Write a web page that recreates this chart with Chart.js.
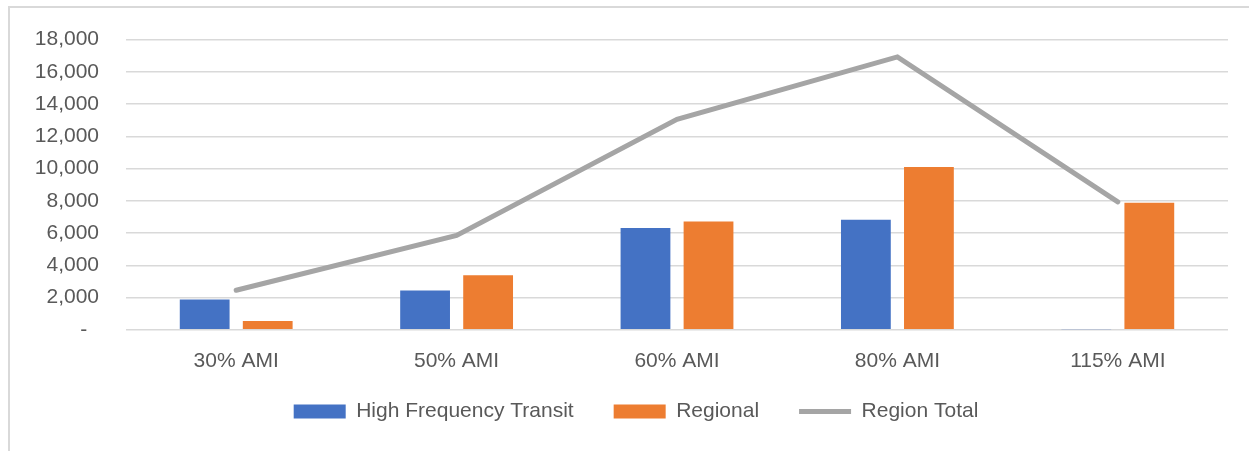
<!DOCTYPE html>
<html>
<head>
<meta charset="utf-8">
<title>AMI chart</title>
<script src="https://cdn.jsdelivr.net/npm/chart.js@4.4.1/dist/chart.umd.min.js"></script>
<style>
  html, body { margin: 0; padding: 0; background: #ffffff; }
  #frame { position: absolute; left: 8px; top: 6px; width: 1260px; height: 460px; border: 2px solid #d9d9d9; }
  #wrap { position: absolute; left: 0; top: 0; width: 1249px; height: 451px; }
</style>
</head>
<body>
<div id="frame"></div>
<div id="wrap"><canvas id="amiChart"></canvas></div>
<script>
// categories and values
var categories = ["30% AMI", "50% AMI", "60% AMI", "80% AMI", "115% AMI"];
var highFrequencyTransit = [1880, 2440, 6310, 6830, 40];
var regional = [540, 3380, 6720, 10100, 7880];
var regionTotal = [2450, 5850, 13050, 16930, 7930];
var yTicks = [0, 2000, 4000, 6000, 8000, 10000, 12000, 14000, 16000, 18000];

// nudge the legend to where the reference has it
var legendLift = 32;
var legendPush = 22;
var legendShift = {
  id: "legendShift",
  afterLayout: function(chart) {
    chart.legend.top -= legendLift;
    chart.legend.bottom -= legendLift;
    chart.legend.left += legendPush;
    chart.legend.right += legendPush;
  }
};

Chart.defaults.font.family = "'Liberation Sans', Arial, sans-serif";
Chart.defaults.font.size = 21;
Chart.defaults.color = "#595959";

var ctx = document.getElementById("amiChart").getContext("2d");
var amiChart = new Chart(ctx, {
  type: "bar",
  data: {
    labels: categories,
    datasets: [
      {
        label: "High Frequency Transit",
        data: highFrequencyTransit,
        backgroundColor: "#4472c4",
        borderWidth: 0,
        pointStyle: "rect",
        order: 1
      },
      {
        label: "Regional",
        data: regional,
        backgroundColor: "#ed7d31",
        borderWidth: 0,
        pointStyle: "rect",
        order: 2
      },
      {
        type: "line",
        label: "Region Total",
        data: regionTotal,
        borderColor: "#a5a5a5",
        backgroundColor: "#a5a5a5",
        borderWidth: 5,
        borderCapStyle: "round",
        pointRadius: 0,
        pointStyle: "line",
        tension: 0,
        order: 0
      }
    ]
  },
  options: {
    responsive: true,
    maintainAspectRatio: false,
    animation: false,
    categoryPercentage: 0.572,
    barPercentage: 0.79,
    layout: { padding: { left: 0, right: 21, top: 37, bottom: -13 } },
    scales: {
      x: {
        grid: { display: false, drawTicks: false },
        border: { display: false },
        ticks: { padding: 19, autoSkip: false, maxRotation: 0 }
      },
      y: {
        min: 0,
        max: 18000,
        afterFit: function(scale) { scale.width = 126; },
        afterBuildTicks: function(scale) {
          scale.ticks = yTicks.map(function(v) { return { value: v }; });
        },
        grid: { color: "#d9d9d9", lineWidth: 1.5, drawTicks: false },
        border: { display: false },
        ticks: {
          padding: 27,
          callback: function(value) {
            return value === 0 ? "-  " : value.toLocaleString("en-US");
          }
        }
      }
    },
    plugins: {
      tooltip: { enabled: false },
      legend: {
        position: "bottom",
        labels: {
          usePointStyle: true,
          pointStyleWidth: 52,
          boxHeight: 14,
          padding: 40,
          sort: function(a, b) { return a.datasetIndex - b.datasetIndex; }
        }
      }
    }
  },
  plugins: [legendShift]
});
</script>
</body>
</html>
